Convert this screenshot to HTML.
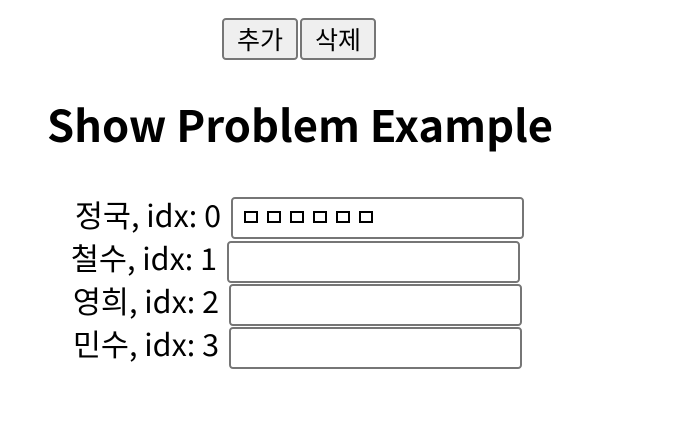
<!DOCTYPE html>
<html><head><meta charset="utf-8"><style>
body{margin:0;width:696px;height:432px;background:#fff;position:relative;overflow:hidden;font-family:"Noto Sans CJK KR","Liberation Sans",sans-serif;color:#000}
.b{position:absolute;top:18px;height:42px;width:76px;box-sizing:border-box;border:2px solid #767676;border-radius:4px;background:#efefef;font-size:25px;text-align:center;line-height:38px}
h1{position:absolute;left:47px;top:96px;margin:0;font-size:43.5px;font-weight:bold;line-height:56px;white-space:nowrap;font-family:"Noto Sans CJK KR","Liberation Sans",sans-serif}
.l{position:absolute;font-size:30.5px;line-height:42px;text-align:right;white-space:nowrap}
.i{position:absolute;width:293px;height:42px;box-sizing:border-box;border:2px solid #767676;border-radius:4px;background:#fff}
.sq{position:absolute;left:11px;top:10px;display:flex;gap:9px}
.sq span{width:14px;height:12px;border:2px solid #000;box-sizing:border-box;margin-top:2px}
</style></head><body>
<div class="b" style="left:222px">추가</div>
<div class="b" style="left:300px">삭제</div>
<h1>Show Problem Example</h1>
<div class="l" style="right:475px;top:193px">정국, idx: 0</div>
<div class="i" style="left:231px;top:197px"><div class="sq"><span></span><span></span><span></span><span></span><span></span><span></span></div></div>
<div class="l" style="right:479px;top:236px">철수, idx: 1</div>
<div class="i" style="left:227px;top:241px"></div>
<div class="l" style="right:477px;top:279px">영희, idx: 2</div>
<div class="i" style="left:229px;top:284px"></div>
<div class="l" style="right:477px;top:322px">민수, idx: 3</div>
<div class="i" style="left:229px;top:327px"></div>
</body></html>
